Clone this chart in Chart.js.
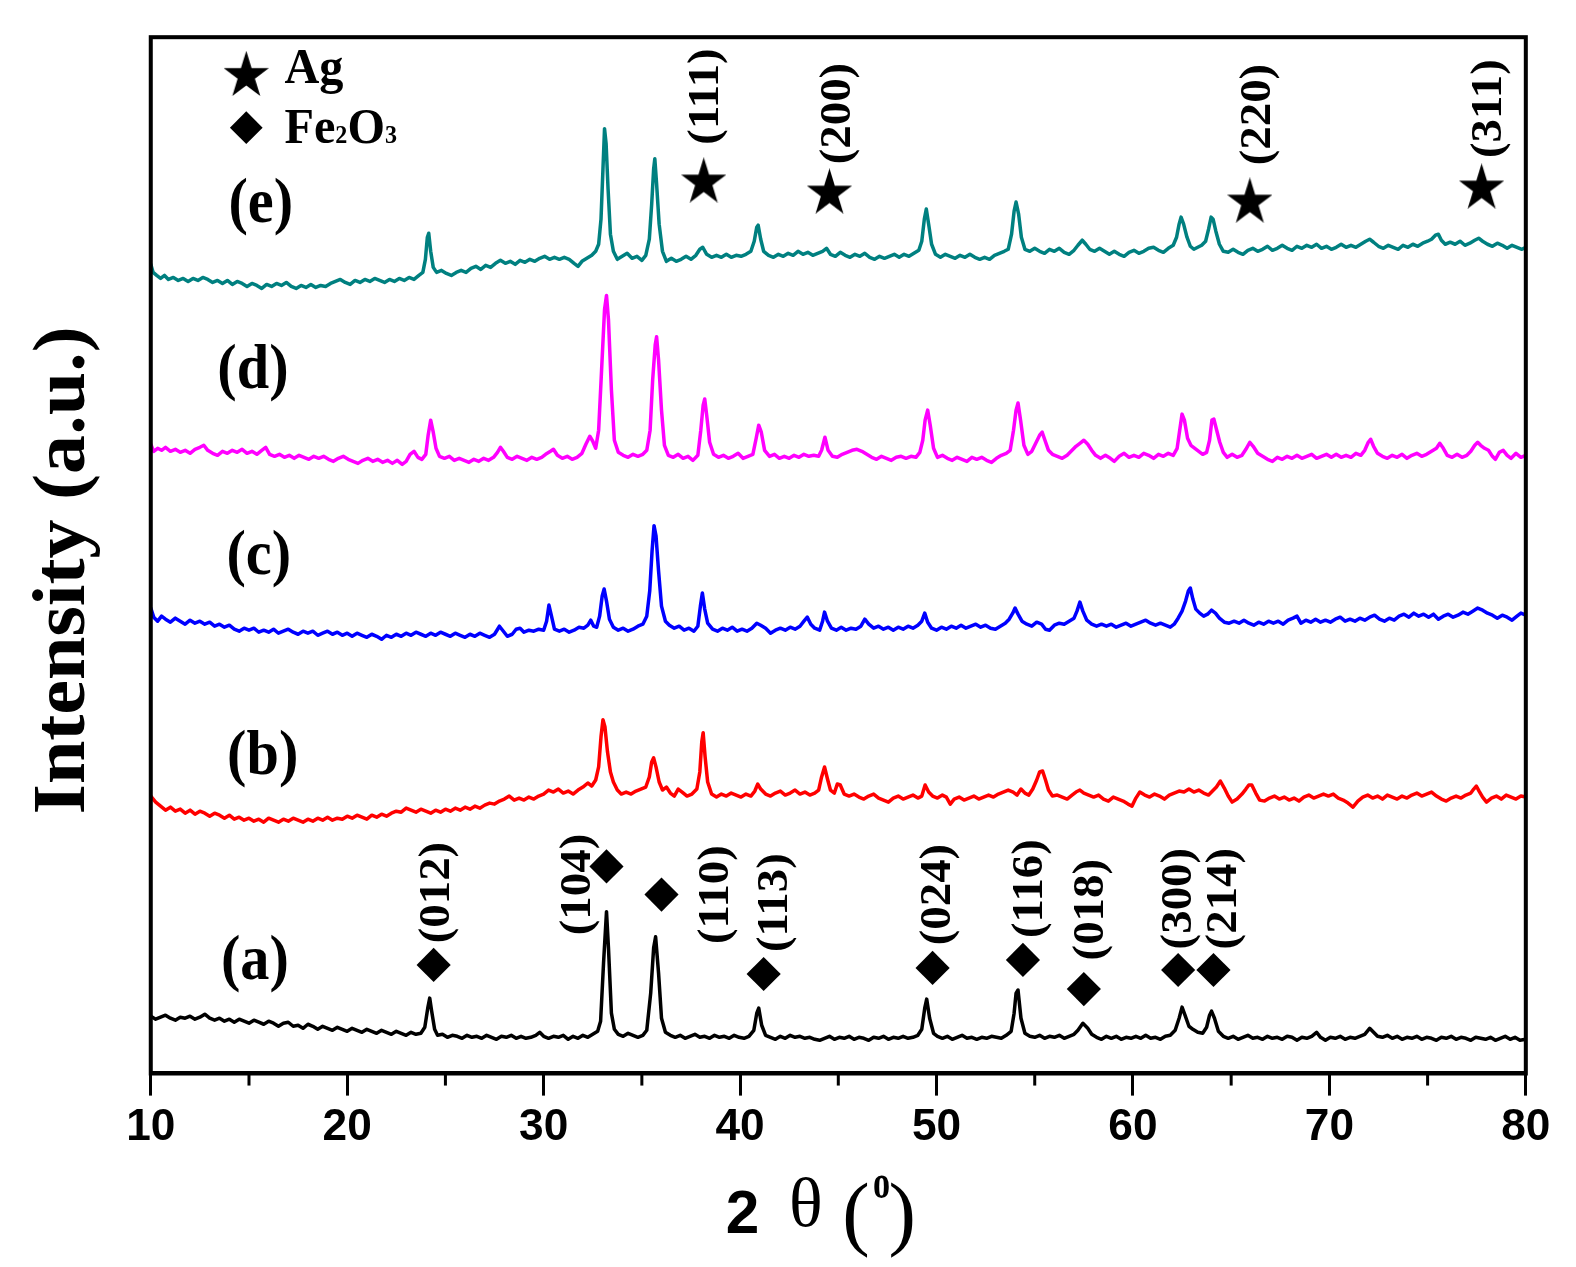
<!DOCTYPE html>
<html>
<head>
<meta charset="utf-8">
<title>XRD patterns</title>
<script src="https://cdn.jsdelivr.net/npm/chart.js@4.4.1/dist/chart.umd.min.js"></script>
<style>
  html, body { margin: 0; padding: 0; background: #fff; overflow: hidden; }
  canvas { display: block; }
</style>
</head>
<body>
<!-- layout is worked out on a 1568 x 1261 grid and scaled up to fill the 1576 x 1267 window -->
<canvas id="xrd" width="1568" height="1261" style="width:1576px;height:1267px"></canvas>
<script>
// [2theta, intensity] pairs (intensity in a.u., patterns stacked)
const patternA = [[10.0,57],[10.25,54],[10.5,56],[10.75,58],[11.0,55],[11.25,53],[11.5,56],[11.75,55],[12.0,57],[12.25,54],[12.5,56],[12.75,59],[13.0,55],[13.25,53],[13.5,55],[13.75,52],[14.0,54],[14.25,51],[14.5,54],[14.75,52],[15.0,50],[15.25,53],[15.5,51],[15.75,49],[16.0,52],[16.25,50],[16.5,47],[16.75,50],[17.0,51],[17.25,47],[17.5,48],[17.75,45],[18.0,49],[18.25,47],[18.5,44],[18.75,47],[19.0,45],[19.25,43],[19.5,46],[19.75,44],[20.0,42],[20.25,45],[20.5,43],[20.75,41],[21.0,44],[21.25,42],[21.5,40],[21.75,43],[22.0,41],[22.25,39],[22.5,42],[22.75,40],[23.0,38],[23.25,41],[23.5,39],[23.75,40],[23.95,46],[24.1,65],[24.2,75],[24.3,62],[24.45,44],[24.6,38],[24.85,39],[25.1,36],[25.35,38],[25.6,37],[25.85,35],[26.1,38],[26.35,36],[26.6,37],[26.85,35],[27.1,38],[27.35,36],[27.6,34],[27.85,37],[28.1,36],[28.35,38],[28.6,35],[28.85,37],[29.1,35],[29.35,36],[29.6,38],[29.8,41],[30.0,37],[30.25,35],[30.5,37],[30.75,36],[31.0,38],[31.25,34],[31.5,37],[31.75,35],[32.0,38],[32.25,36],[32.5,39],[32.75,42],[32.9,52],[33.05,110],[33.2,161],[33.3,125],[33.45,60],[33.6,44],[33.8,39],[34.05,37],[34.3,40],[34.55,38],[34.8,36],[35.05,38],[35.25,43],[35.45,80],[35.6,125],[35.7,136],[35.85,100],[36.0,55],[36.2,41],[36.45,38],[36.7,36],[36.95,38],[37.2,35],[37.45,37],[37.7,39],[37.95,36],[38.2,37],[38.45,35],[38.7,38],[38.95,36],[39.2,37],[39.45,35],[39.7,38],[39.95,36],[40.2,35],[40.45,37],[40.7,43],[40.85,60],[40.95,65],[41.1,48],[41.3,38],[41.55,36],[41.8,34],[42.05,37],[42.3,35],[42.55,38],[42.8,36],[43.05,37],[43.3,35],[43.55,36],[43.8,34],[44.05,33],[44.3,35],[44.55,37],[44.8,34],[45.05,36],[45.3,35],[45.55,37],[45.8,34],[46.05,36],[46.3,35],[46.55,33],[46.8,36],[47.05,35],[47.3,37],[47.55,34],[47.8,36],[48.05,35],[48.3,37],[48.55,35],[48.8,36],[49.05,38],[49.25,44],[49.4,65],[49.5,74],[49.65,55],[49.85,40],[50.05,37],[50.3,35],[50.55,37],[50.8,34],[51.05,36],[51.3,38],[51.55,35],[51.8,36],[52.05,34],[52.3,36],[52.55,35],[52.8,37],[53.05,36],[53.3,35],[53.55,38],[53.8,42],[53.95,60],[54.05,80],[54.15,83],[54.3,55],[54.5,40],[54.75,37],[55.0,36],[55.25,38],[55.5,35],[55.75,37],[56.0,36],[56.25,38],[56.5,35],[56.75,37],[57.0,39],[57.2,43],[57.45,50],[57.7,45],[57.9,39],[58.15,36],[58.4,34],[58.65,37],[58.9,35],[59.15,37],[59.4,34],[59.65,36],[59.9,35],[60.15,37],[60.4,35],[60.65,38],[60.9,35],[61.15,36],[61.4,34],[61.65,37],[61.9,38],[62.15,43],[62.35,55],[62.5,66],[62.65,58],[62.85,47],[63.05,44],[63.3,41],[63.55,40],[63.75,46],[63.9,58],[64.0,62],[64.15,55],[64.35,42],[64.6,37],[64.85,35],[65.1,37],[65.35,34],[65.6,36],[65.85,38],[66.1,35],[66.35,36],[66.6,34],[66.85,37],[67.1,35],[67.35,36],[67.6,34],[67.85,37],[68.1,36],[68.35,33],[68.6,36],[68.85,35],[69.1,37],[69.35,41],[69.55,36],[69.8,33],[70.05,36],[70.3,35],[70.55,37],[70.8,34],[71.05,36],[71.3,35],[71.55,37],[71.8,39],[72.05,45],[72.25,41],[72.45,37],[72.7,36],[72.95,38],[73.2,35],[73.45,37],[73.7,34],[73.95,36],[74.2,35],[74.45,37],[74.7,34],[74.95,36],[75.2,35],[75.45,33],[75.7,36],[75.95,35],[76.2,37],[76.45,34],[76.7,36],[76.95,35],[77.2,33],[77.45,36],[77.7,35],[77.95,34],[78.2,36],[78.45,33],[78.7,35],[78.95,37],[79.2,34],[79.45,36],[79.7,33],[80.0,34]];

const patternB = [[10.0,276],[10.25,270],[10.5,266],[10.75,262],[11.0,265],[11.25,261],[11.5,263],[11.75,259],[12.0,262],[12.25,258],[12.5,261],[12.75,259],[13.0,256],[13.25,259],[13.5,257],[13.75,254],[14.0,257],[14.25,253],[14.5,255],[14.75,252],[15.0,254],[15.25,251],[15.5,253],[15.75,250],[16.0,254],[16.25,252],[16.5,250],[16.75,253],[17.0,251],[17.25,254],[17.5,252],[17.75,250],[18.0,253],[18.25,251],[18.5,254],[18.75,252],[19.0,255],[19.25,252],[19.5,254],[19.75,253],[20.0,256],[20.25,254],[20.5,257],[20.75,255],[21.0,253],[21.25,257],[21.5,255],[21.75,258],[22.0,256],[22.25,259],[22.5,261],[22.75,260],[23.0,264],[23.25,262],[23.5,260],[23.75,263],[24.0,261],[24.25,259],[24.5,262],[24.75,260],[25.0,263],[25.25,261],[25.5,264],[25.75,262],[26.0,265],[26.25,263],[26.5,266],[26.75,264],[27.0,267],[27.25,269],[27.5,268],[27.75,271],[28.0,273],[28.25,276],[28.5,272],[28.75,274],[29.0,272],[29.25,275],[29.5,273],[29.75,276],[30.0,278],[30.25,282],[30.5,280],[30.75,283],[31.0,279],[31.25,281],[31.5,278],[31.75,282],[32.0,285],[32.25,289],[32.45,286],[32.65,292],[32.8,305],[32.92,335],[33.02,352],[33.12,345],[33.25,320],[33.4,300],[33.55,290],[33.75,282],[33.95,278],[34.2,280],[34.45,278],[34.7,281],[34.95,283],[35.2,285],[35.38,295],[35.5,310],[35.6,314],[35.72,305],[35.88,290],[36.05,282],[36.25,285],[36.45,279],[36.65,276],[36.85,283],[37.05,280],[37.3,276],[37.55,278],[37.8,283],[37.95,300],[38.05,330],[38.12,339],[38.22,315],[38.35,290],[38.55,278],[38.8,275],[39.05,278],[39.3,276],[39.55,279],[39.8,277],[40.05,275],[40.3,278],[40.55,276],[40.75,281],[40.9,288],[41.05,283],[41.3,278],[41.55,276],[41.8,279],[42.05,281],[42.3,277],[42.55,279],[42.8,282],[43.05,278],[43.3,280],[43.55,277],[43.8,279],[44.0,282],[44.15,295],[44.3,305],[44.45,293],[44.6,282],[44.8,279],[44.95,288],[45.1,287],[45.3,278],[45.55,276],[45.8,278],[46.05,275],[46.3,273],[46.55,276],[46.8,278],[47.05,274],[47.3,272],[47.55,270],[47.8,274],[48.05,276],[48.3,273],[48.55,275],[48.8,277],[49.05,274],[49.25,276],[49.42,287],[49.6,280],[49.8,276],[50.05,274],[50.3,277],[50.5,275],[50.7,268],[50.9,273],[51.15,275],[51.4,272],[51.65,274],[51.9,276],[52.15,273],[52.4,275],[52.65,277],[52.9,275],[53.15,278],[53.4,280],[53.65,282],[53.9,280],[54.1,277],[54.3,283],[54.5,279],[54.7,277],[54.9,283],[55.1,292],[55.25,300],[55.4,301],[55.55,292],[55.7,282],[55.9,276],[56.15,277],[56.4,275],[56.65,273],[56.9,277],[57.1,280],[57.3,282],[57.5,279],[57.75,277],[58.0,275],[58.25,277],[58.5,273],[58.75,271],[59.0,275],[59.25,273],[59.5,271],[59.75,268],[59.95,266],[60.15,274],[60.35,280],[60.6,277],[60.85,275],[61.1,278],[61.35,276],[61.6,273],[61.85,277],[62.1,279],[62.35,281],[62.6,280],[62.85,283],[63.1,280],[63.35,282],[63.6,279],[63.85,277],[64.05,281],[64.25,285],[64.45,291],[64.65,284],[64.85,276],[65.05,270],[65.3,273],[65.55,278],[65.75,283],[65.9,287],[66.05,287],[66.25,279],[66.45,272],[66.7,271],[66.95,274],[67.2,276],[67.45,273],[67.7,275],[67.95,272],[68.2,274],[68.45,271],[68.7,275],[68.95,277],[69.2,274],[69.45,276],[69.7,278],[69.95,276],[70.2,278],[70.45,274],[70.7,272],[70.95,269],[71.2,265],[71.45,271],[71.7,275],[71.95,277],[72.2,274],[72.45,276],[72.7,273],[72.95,277],[73.2,275],[73.45,273],[73.7,276],[73.95,274],[74.2,277],[74.45,279],[74.7,276],[74.95,278],[75.2,280],[75.45,276],[75.7,273],[75.95,271],[76.2,274],[76.45,276],[76.7,274],[76.95,277],[77.2,279],[77.35,283],[77.48,286],[77.62,281],[77.8,275],[78.0,270],[78.25,274],[78.5,276],[78.75,273],[79.0,277],[79.25,275],[79.5,273],[79.75,276],[80.0,275]];

const patternC = [[10.0,463],[10.15,454],[10.35,450],[10.55,455],[10.75,452],[11.0,449],[11.25,453],[11.5,450],[11.75,447],[12.0,451],[12.25,448],[12.5,450],[12.75,447],[13.0,449],[13.25,445],[13.5,447],[13.75,444],[14.0,446],[14.25,442],[14.5,440],[14.75,443],[15.0,441],[15.25,443],[15.5,439],[15.75,441],[16.0,439],[16.25,442],[16.5,438],[16.75,440],[17.0,442],[17.25,439],[17.5,437],[17.75,440],[18.0,438],[18.25,440],[18.5,436],[18.75,438],[19.0,440],[19.25,437],[19.5,439],[19.75,436],[20.0,438],[20.25,435],[20.5,438],[20.75,436],[21.0,434],[21.25,437],[21.5,435],[21.75,432],[22.0,436],[22.25,434],[22.5,437],[22.75,435],[23.0,438],[23.25,436],[23.5,439],[23.75,437],[24.0,435],[24.25,438],[24.5,436],[24.75,439],[25.0,437],[25.25,435],[25.5,438],[25.75,436],[26.0,434],[26.25,437],[26.5,435],[26.75,438],[27.0,436],[27.25,434],[27.5,437],[27.75,445],[27.95,440],[28.15,435],[28.4,437],[28.6,442],[28.8,443],[29.0,439],[29.25,441],[29.5,440],[29.75,442],[30.0,441],[30.15,450],[30.27,466],[30.4,455],[30.55,442],[30.8,440],[31.05,442],[31.3,439],[31.55,441],[31.8,444],[32.05,443],[32.25,446],[32.4,451],[32.55,445],[32.7,444],[32.85,455],[32.98,475],[33.08,482],[33.2,470],[33.35,452],[33.55,444],[33.8,441],[34.05,443],[34.3,440],[34.55,442],[34.8,445],[35.05,447],[35.25,455],[35.4,480],[35.52,520],[35.62,545],[35.72,535],[35.85,500],[36.0,465],[36.2,450],[36.4,446],[36.65,443],[36.9,445],[37.15,441],[37.4,443],[37.65,440],[37.85,445],[37.98,465],[38.08,478],[38.2,462],[38.35,448],[38.6,442],[38.85,440],[39.1,443],[39.35,441],[39.6,444],[39.85,440],[40.1,442],[40.35,440],[40.6,443],[40.85,448],[41.05,446],[41.3,443],[41.55,438],[41.8,441],[42.05,443],[42.3,441],[42.55,444],[42.8,442],[43.05,445],[43.25,450],[43.42,454],[43.6,447],[43.8,443],[44.05,441],[44.2,450],[44.3,459],[44.45,450],[44.65,443],[44.9,441],[45.15,444],[45.4,441],[45.65,443],[45.9,442],[46.15,445],[46.35,452],[46.55,447],[46.8,443],[47.05,445],[47.3,442],[47.55,444],[47.8,441],[48.05,444],[48.3,442],[48.55,445],[48.8,443],[49.05,446],[49.25,450],[49.4,458],[49.55,449],[49.75,443],[50.0,441],[50.25,444],[50.5,442],[50.75,445],[51.0,443],[51.25,446],[51.5,443],[51.75,445],[52.0,447],[52.25,444],[52.5,446],[52.75,443],[53.0,442],[53.25,445],[53.5,448],[53.7,452],[53.88,458],[54.0,463],[54.15,457],[54.35,450],[54.6,447],[54.85,445],[55.1,449],[55.35,447],[55.55,442],[55.75,441],[56.0,446],[56.25,448],[56.5,447],[56.75,450],[57.0,453],[57.15,460],[57.3,469],[57.45,460],[57.65,451],[57.9,447],[58.15,445],[58.4,447],[58.65,445],[58.9,447],[59.15,444],[59.4,446],[59.65,448],[59.9,445],[60.15,447],[60.4,449],[60.65,451],[60.9,448],[61.15,446],[61.4,448],[61.65,446],[61.9,444],[62.1,447],[62.3,453],[62.5,460],[62.68,470],[62.82,480],[62.92,483],[63.05,472],[63.2,462],[63.4,458],[63.6,455],[63.8,457],[64.0,461],[64.2,458],[64.4,453],[64.65,449],[64.9,448],[65.15,450],[65.4,448],[65.65,451],[65.9,448],[66.15,446],[66.4,449],[66.65,447],[66.9,450],[67.15,448],[67.4,450],[67.65,447],[67.9,451],[68.15,453],[68.35,455],[68.55,448],[68.8,451],[69.05,449],[69.3,452],[69.55,449],[69.8,451],[70.05,449],[70.3,452],[70.55,454],[70.8,450],[71.05,452],[71.3,450],[71.55,453],[71.8,451],[72.05,454],[72.3,456],[72.55,452],[72.8,450],[73.05,453],[73.3,451],[73.55,455],[73.8,457],[74.05,454],[74.3,458],[74.55,455],[74.8,457],[75.05,454],[75.3,457],[75.55,452],[75.8,455],[76.05,457],[76.3,454],[76.55,456],[76.8,459],[77.05,457],[77.3,460],[77.55,463],[77.8,461],[78.05,458],[78.3,456],[78.55,453],[78.8,456],[79.05,454],[79.3,451],[79.55,455],[79.75,458],[80.0,456]];

const patternD = [[10.0,626],[10.15,619],[10.35,622],[10.55,620],[10.75,623],[11.0,619],[11.25,621],[11.5,618],[11.75,620],[12.0,617],[12.25,621],[12.5,623],[12.7,625],[12.9,620],[13.15,617],[13.4,615],[13.65,619],[13.9,617],[14.15,620],[14.4,618],[14.65,621],[14.9,617],[15.15,619],[15.4,616],[15.65,620],[15.85,623],[16.05,616],[16.3,614],[16.55,616],[16.8,613],[17.05,615],[17.3,612],[17.55,615],[17.8,613],[18.05,611],[18.3,614],[18.55,612],[18.8,614],[19.05,611],[19.3,609],[19.55,612],[19.8,614],[20.05,611],[20.3,609],[20.55,607],[20.8,610],[21.05,612],[21.3,609],[21.55,611],[21.8,608],[22.05,610],[22.3,607],[22.55,610],[22.8,606],[23.0,609],[23.2,616],[23.4,619],[23.6,613],[23.8,611],[24.0,616],[24.12,635],[24.25,650],[24.38,638],[24.52,622],[24.7,614],[24.95,612],[25.2,614],[25.45,610],[25.7,612],[25.95,610],[26.2,608],[26.45,611],[26.7,609],[26.95,612],[27.2,610],[27.45,613],[27.65,618],[27.8,623],[27.95,619],[28.15,613],[28.4,611],[28.65,614],[28.9,612],[29.15,610],[29.4,613],[29.65,611],[29.9,613],[30.1,616],[30.35,619],[30.5,621],[30.7,615],[30.95,612],[31.2,614],[31.45,611],[31.7,613],[31.95,617],[32.15,626],[32.35,634],[32.5,629],[32.65,622],[32.8,640],[32.95,700],[33.1,760],[33.2,774],[33.3,750],[33.45,680],[33.6,630],[33.8,618],[34.05,615],[34.3,613],[34.55,616],[34.8,614],[35.05,616],[35.25,620],[35.42,640],[35.55,690],[35.68,725],[35.75,733],[35.85,710],[36.0,660],[36.15,625],[36.35,615],[36.6,613],[36.85,616],[37.1,612],[37.35,614],[37.6,610],[37.85,615],[38.0,640],[38.12,665],[38.2,671],[38.3,655],[38.45,628],[38.65,616],[38.9,613],[39.15,615],[39.4,612],[39.65,614],[39.9,617],[40.15,612],[40.4,614],[40.65,616],[40.82,632],[40.95,645],[41.08,638],[41.25,620],[41.5,614],[41.75,616],[42.0,612],[42.25,614],[42.5,612],[42.75,615],[43.0,613],[43.25,616],[43.5,614],[43.75,615],[44.0,614],[44.15,620],[44.32,633],[44.48,620],[44.7,614],[44.95,613],[45.2,616],[45.45,618],[45.7,620],[45.95,621],[46.2,619],[46.45,616],[46.7,613],[46.95,611],[47.2,614],[47.45,612],[47.7,610],[47.95,613],[48.2,614],[48.45,612],[48.7,614],[48.95,613],[49.15,618],[49.3,630],[49.42,650],[49.55,660],[49.68,645],[49.85,622],[50.05,613],[50.3,615],[50.55,612],[50.8,610],[51.05,613],[51.3,611],[51.55,609],[51.8,613],[52.05,611],[52.3,613],[52.55,610],[52.8,608],[53.05,612],[53.3,615],[53.55,617],[53.75,620],[53.92,640],[54.05,660],[54.15,667],[54.28,650],[54.45,625],[54.65,616],[54.85,619],[55.05,627],[55.25,635],[55.38,638],[55.52,630],[55.7,620],[55.9,616],[56.15,614],[56.4,612],[56.65,615],[56.9,620],[57.1,624],[57.3,627],[57.5,630],[57.7,626],[57.9,620],[58.1,615],[58.35,612],[58.6,615],[58.85,612],[59.05,609],[59.3,614],[59.55,617],[59.8,613],[60.05,615],[60.3,613],[60.55,617],[60.8,615],[61.05,612],[61.3,616],[61.55,614],[61.8,617],[62.05,615],[62.25,622],[62.38,640],[62.5,656],[62.62,650],[62.78,632],[62.95,625],[63.15,622],[63.35,619],[63.55,616],[63.75,618],[63.9,630],[64.02,650],[64.12,651],[64.25,641],[64.42,628],[64.6,618],[64.8,613],[65.05,616],[65.3,613],[65.55,615],[65.75,621],[65.95,628],[66.12,624],[66.35,617],[66.6,614],[66.85,611],[67.1,609],[67.35,613],[67.6,611],[67.85,614],[68.1,612],[68.35,615],[68.6,612],[68.85,614],[69.1,616],[69.35,612],[69.6,614],[69.85,616],[70.1,613],[70.35,616],[70.6,613],[70.85,615],[71.1,613],[71.35,617],[71.6,615],[71.8,620],[71.98,628],[72.1,631],[72.25,624],[72.45,617],[72.7,614],[72.95,612],[73.2,615],[73.45,613],[73.7,616],[73.95,612],[74.2,615],[74.45,617],[74.7,614],[74.95,616],[75.2,619],[75.45,622],[75.62,627],[75.8,622],[76.0,615],[76.25,613],[76.5,616],[76.75,613],[77.0,615],[77.2,619],[77.4,625],[77.55,628],[77.7,625],[77.9,622],[78.1,620],[78.3,614],[78.45,611],[78.65,618],[78.85,620],[79.05,615],[79.25,612],[79.5,617],[79.75,613],[80.0,615]];

const patternE = [[10.0,805],[10.12,797],[10.3,794],[10.5,791],[10.7,794],[10.9,790],[11.15,792],[11.4,789],[11.65,791],[11.9,788],[12.15,791],[12.4,789],[12.65,792],[12.9,790],[13.15,787],[13.4,789],[13.65,786],[13.9,789],[14.15,785],[14.4,788],[14.65,786],[14.9,783],[15.15,786],[15.4,784],[15.65,781],[15.9,785],[16.15,783],[16.4,786],[16.65,784],[16.9,787],[17.15,783],[17.4,781],[17.65,784],[17.9,782],[18.15,785],[18.4,782],[18.65,784],[18.9,783],[19.15,786],[19.4,788],[19.65,790],[19.9,787],[20.15,785],[20.4,789],[20.65,787],[20.9,790],[21.15,788],[21.4,791],[21.65,789],[21.9,787],[22.15,790],[22.4,788],[22.65,791],[22.9,789],[23.15,792],[23.4,790],[23.65,794],[23.85,797],[23.98,810],[24.08,832],[24.15,836],[24.25,818],[24.38,802],[24.55,797],[24.8,799],[25.05,796],[25.3,794],[25.55,797],[25.8,799],[26.05,797],[26.3,801],[26.55,803],[26.8,800],[27.05,804],[27.3,802],[27.55,806],[27.8,809],[28.05,806],[28.3,808],[28.55,805],[28.8,809],[29.05,807],[29.3,810],[29.55,808],[29.8,811],[30.05,813],[30.3,810],[30.55,812],[30.8,810],[31.05,812],[31.3,810],[31.55,806],[31.75,803],[31.95,808],[32.2,811],[32.45,814],[32.65,818],[32.8,825],[32.92,850],[33.02,900],[33.1,940],[33.18,925],[33.28,880],[33.4,835],[33.55,818],[33.75,810],[34.0,813],[34.25,816],[34.5,811],[34.75,813],[35.0,809],[35.2,814],[35.38,830],[35.5,865],[35.6,900],[35.66,910],[35.75,885],[35.88,845],[36.05,818],[36.25,808],[36.5,811],[36.75,808],[37.0,810],[37.25,813],[37.5,810],[37.75,814],[37.95,820],[38.1,822],[38.3,815],[38.55,812],[38.8,814],[39.05,812],[39.3,815],[39.55,812],[39.8,814],[40.05,813],[40.3,815],[40.55,818],[40.72,828],[40.85,842],[40.92,844],[41.05,830],[41.2,818],[41.45,814],[41.7,812],[41.95,815],[42.2,813],[42.45,816],[42.7,814],[42.95,818],[43.2,815],[43.45,817],[43.7,814],[43.95,816],[44.2,818],[44.4,821],[44.6,815],[44.85,813],[45.1,817],[45.35,814],[45.6,812],[45.85,815],[46.1,813],[46.35,816],[46.6,812],[46.85,810],[47.1,813],[47.35,811],[47.6,813],[47.85,815],[48.1,812],[48.35,815],[48.6,813],[48.85,816],[49.1,819],[49.25,828],[49.38,850],[49.48,860],[49.6,845],[49.75,825],[49.95,815],[50.2,812],[50.45,815],[50.7,813],[50.95,811],[51.2,814],[51.45,812],[51.7,815],[51.95,812],[52.2,810],[52.45,812],[52.7,810],[52.95,814],[53.2,816],[53.45,818],[53.65,820],[53.82,835],[53.95,858],[54.05,867],[54.18,855],[54.32,832],[54.5,820],[54.75,818],[55.0,821],[55.25,818],[55.5,816],[55.75,820],[56.0,818],[56.25,821],[56.5,817],[56.75,815],[57.0,819],[57.2,824],[57.42,829],[57.6,825],[57.8,820],[58.05,818],[58.3,821],[58.55,818],[58.8,815],[59.05,818],[59.3,815],[59.55,813],[59.8,817],[60.05,819],[60.3,816],[60.55,818],[60.8,821],[61.05,822],[61.3,819],[61.55,817],[61.8,821],[62.05,824],[62.22,832],[62.35,845],[62.45,852],[62.58,845],[62.75,832],[62.92,823],[63.1,820],[63.3,822],[63.5,824],[63.7,828],[63.85,840],[63.98,852],[64.08,850],[64.22,838],[64.4,825],[64.6,818],[64.85,817],[65.1,820],[65.35,817],[65.6,815],[65.85,819],[66.1,821],[66.35,818],[66.6,820],[66.85,823],[67.1,819],[67.35,821],[67.6,824],[67.85,821],[68.1,819],[68.35,823],[68.6,821],[68.85,824],[69.1,822],[69.35,825],[69.6,821],[69.85,823],[70.1,820],[70.35,822],[70.6,825],[70.85,822],[71.1,824],[71.35,822],[71.6,825],[71.85,828],[72.05,830],[72.25,827],[72.5,823],[72.75,821],[73.0,824],[73.25,822],[73.5,820],[73.75,824],[74.0,822],[74.25,825],[74.5,823],[74.75,826],[75.0,828],[75.2,830],[75.4,834],[75.55,835],[75.7,829],[75.9,825],[76.15,827],[76.4,825],[76.65,828],[76.9,824],[77.15,826],[77.4,829],[77.6,831],[77.8,828],[78.05,825],[78.3,823],[78.55,826],[78.8,824],[79.05,821],[79.3,824],[79.55,822],[79.8,820],[80.0,822]];

const sampleNames = ['(a)', '(b)', '(c)', '(d)', '(e)'];
const sampleLabelX = [15.3, 15.7, 15.5, 15.2, 15.6];
const sampleLabelY = [110, 314, 513, 698, 863];

// Fe2O3 (hematite) reflections: marker position and label position
const hemHkl = ['(012)', '(104)', '(110)', '(113)', '(024)', '(116)', '(018)', '(300)', '(214)'];
const hemX = [24.4, 33.2, 36.0, 41.2, 49.8, 54.4, 57.5, 62.3, 64.1];
const hemY = [108, 206, 178, 99, 105, 113, 84, 103, 103];
const hemLabelX = [24.4, 31.6, 38.6, 41.6, 49.9, 54.6, 57.7, 62.2, 64.5];
const hemLabelY = [180, 188, 178, 170, 178, 184, 163, 174, 174];

// Ag reflections
const agHkl = ['(111)', '(200)', '(220)', '(311)'];
const agX = [38.15, 44.55, 65.95, 77.75];
const agY = [889, 878, 869, 883];
const agLabelX = [38.1, 44.85, 66.2, 77.95];
const agLabelY = [972, 955, 954, 960];

const xMin = 10, xMax = 80, xStep = 10;
const minorTicks = [15, 25, 35, 45, 55, 65, 75];

const colors = ['#000000', '#ff0000', '#0000ff', '#ff00ff', '#008080'];
const SERIF = "'Liberation Serif', 'Times New Roman', serif";

// filled five-point star used as a point style
function makeStar(w, h) {
  const c = document.createElement('canvas');
  c.width = w; c.height = h;
  const g = c.getContext('2d');
  const R = w / 1.902;
  const sy = h / (1.809 * R);
  g.setTransform(1, 0, 0, sy, w / 2, h / 2 + 0.0955 * R * sy);
  g.beginPath();
  for (let i = 0; i < 10; i++) {
    const r = i % 2 ? R * 0.382 : R;
    const a = -Math.PI / 2 + i * Math.PI / 5;
    g.lineTo(r * Math.cos(a), r * Math.sin(a));
  }
  g.closePath();
  g.fillStyle = '#000';
  g.fill();
  return c;
}
const star = makeStar(45, 45);

function vText(ctx, str, cx, cy, size, sy) {
  ctx.save();
  ctx.translate(cx + 0.34 * size, cy);
  ctx.scale(1, sy);
  ctx.rotate(-Math.PI / 2);
  ctx.font = 'bold ' + size + 'px ' + SERIF;
  ctx.textAlign = 'center';
  ctx.textBaseline = 'alphabetic';
  ctx.fillText(str, 0, 0);
  ctx.restore();
}

function hText(ctx, str, x, y, font, sy, align) {
  ctx.save();
  ctx.translate(x, y);
  ctx.scale(1, sy);
  ctx.font = font;
  ctx.textAlign = align || 'left';
  ctx.textBaseline = 'alphabetic';
  ctx.fillText(str, 0, 0);
  const w = ctx.measureText(str).width;
  ctx.restore();
  return w;
}

const overlay = {
  id: 'overlay',
  afterDraw(chart) {
    const { ctx, chartArea: a, scales: { x, y } } = chart;
    ctx.save();
    ctx.fillStyle = '#000';
    ctx.strokeStyle = '#000';

    // frame
    ctx.lineWidth = 4;
    ctx.strokeRect(a.left, a.top, a.right - a.left, a.bottom - a.top);

    // minor ticks
    ctx.lineWidth = 3;
    minorTicks.forEach(v => {
      const px = x.getPixelForValue(v);
      ctx.beginPath();
      ctx.moveTo(px, a.bottom);
      ctx.lineTo(px, a.bottom + 12);
      ctx.stroke();
    });

    // sample letters
    sampleNames.forEach((s, i) => {
      const px = x.getPixelForValue(sampleLabelX[i]);
      const py = y.getPixelForValue(sampleLabelY[i]);
      hText(ctx, s, px, py + 0.26 * 58 * 1.08, 'bold 58px ' + SERIF, 1.08, 'center');
    });

    // reflection labels
    hemHkl.forEach((s, i) => {
      vText(ctx, s, x.getPixelForValue(hemLabelX[i]), y.getPixelForValue(hemLabelY[i]), 44, 1.06);
    });
    agHkl.forEach((s, i) => {
      vText(ctx, s, x.getPixelForValue(agLabelX[i]), y.getPixelForValue(agLabelY[i]), 44, 1.06);
    });

    // key
    const kx = a.left + 95, kt = a.top;
    ctx.drawImage(star, kx - star.width / 2, kt + 36 - star.height / 2);
    hText(ctx, 'Ag', a.left + 133, kt + 46, 'bold 48px ' + SERIF, 1.04);
    ctx.save();
    ctx.translate(kx, kt + 90);
    ctx.rotate(Math.PI / 4);
    ctx.fillRect(-11.5, -11.5, 23, 23);
    ctx.restore();
    let tx = a.left + 133;
    const kb = kt + 105;
    tx += hText(ctx, 'Fe', tx, kb, 'bold 48px ' + SERIF, 1.04);
    tx += hText(ctx, '2', tx, kb, 'bold 24px ' + SERIF, 1.04);
    tx += hText(ctx, 'O', tx, kb, 'bold 48px ' + SERIF, 1.04);
    hText(ctx, '3', tx, kb, 'bold 24px ' + SERIF, 1.04);

    // y axis title
    ctx.save();
    ctx.translate(84, (a.top + a.bottom) / 2 + 15);
    ctx.scale(1, 1.05);
    ctx.rotate(-Math.PI / 2);
    ctx.font = 'bold 74px ' + SERIF;
    ctx.textAlign = 'center';
    ctx.fillText('Intensity (a.u.)', 0, 0);
    ctx.restore();

    // x axis title: 2θ (°)
    const cx = (a.left + a.right) / 2;
    hText(ctx, '2', cx - 112, 1227, "bold 60px 'Liberation Sans', Arial, sans-serif", 1);
    hText(ctx, 'θ', cx - 49, 1220, '70px ' + SERIF, 1);
    hText(ctx, '(', cx + 4, 1234, '82px ' + SERIF, 1);
    hText(ctx, 'o', cx + 43, 1192, 'bold 34px ' + SERIF, 1.45, 'center');
    hText(ctx, ')', cx + 50, 1234, '82px ' + SERIF, 1);

    ctx.restore();
  }
};

const lineSet = (data, color) => ({
  data: data,
  borderColor: color,
  borderWidth: 3.5,
  borderJoinStyle: 'round',
  borderCapStyle: 'round',
  pointRadius: 0,
  tension: 0,
  fill: false
});

new Chart(document.getElementById('xrd'), {
  type: 'line',
  data: {
    datasets: [
      lineSet(patternA, colors[0]),
      lineSet(patternB, colors[1]),
      lineSet(patternC, colors[2]),
      lineSet(patternD, colors[3]),
      lineSet(patternE, colors[4]),
      {
        data: hemX.map((v, i) => ({ x: v, y: hemY[i] })),
        showLine: false,
        pointStyle: 'rectRot',
        pointRadius: 17,
        backgroundColor: '#000',
        borderWidth: 0
      },
      {
        data: agX.map((v, i) => ({ x: v, y: agY[i] })),
        showLine: false,
        pointStyle: star,
        pointRadius: 22,
        backgroundColor: '#000',
        borderWidth: 0
      }
    ]
  },
  options: {
    responsive: false,
    animation: false,
    devicePixelRatio: 1.00515,
    layout: { autoPadding: false, padding: { left: 150, right: 50, top: 37, bottom: 0 } },
    plugins: { legend: { display: false }, tooltip: { enabled: false } },
    scales: {
      x: {
        type: 'linear',
        min: xMin,
        max: xMax,
        ticks: {
          stepSize: xStep,
          color: '#000',
          padding: 6,
          maxRotation: 0,
          font: { family: "'Liberation Sans', Arial, sans-serif", size: 44, weight: 'bold' }
        },
        grid: { drawOnChartArea: false, drawTicks: true, tickLength: 22, tickWidth: 3, tickColor: '#000', color: '#000' },
        border: { display: true, width: 4, color: '#000' },
        afterFit(scale) {
          scale.height = 193;
          scale.paddingLeft = 0;
          scale.paddingRight = 0;
        }
      },
      y: {
        display: false,
        min: 0,
        max: 1031
      }
    }
  },
  plugins: [overlay]
});
</script>
</body>
</html>
